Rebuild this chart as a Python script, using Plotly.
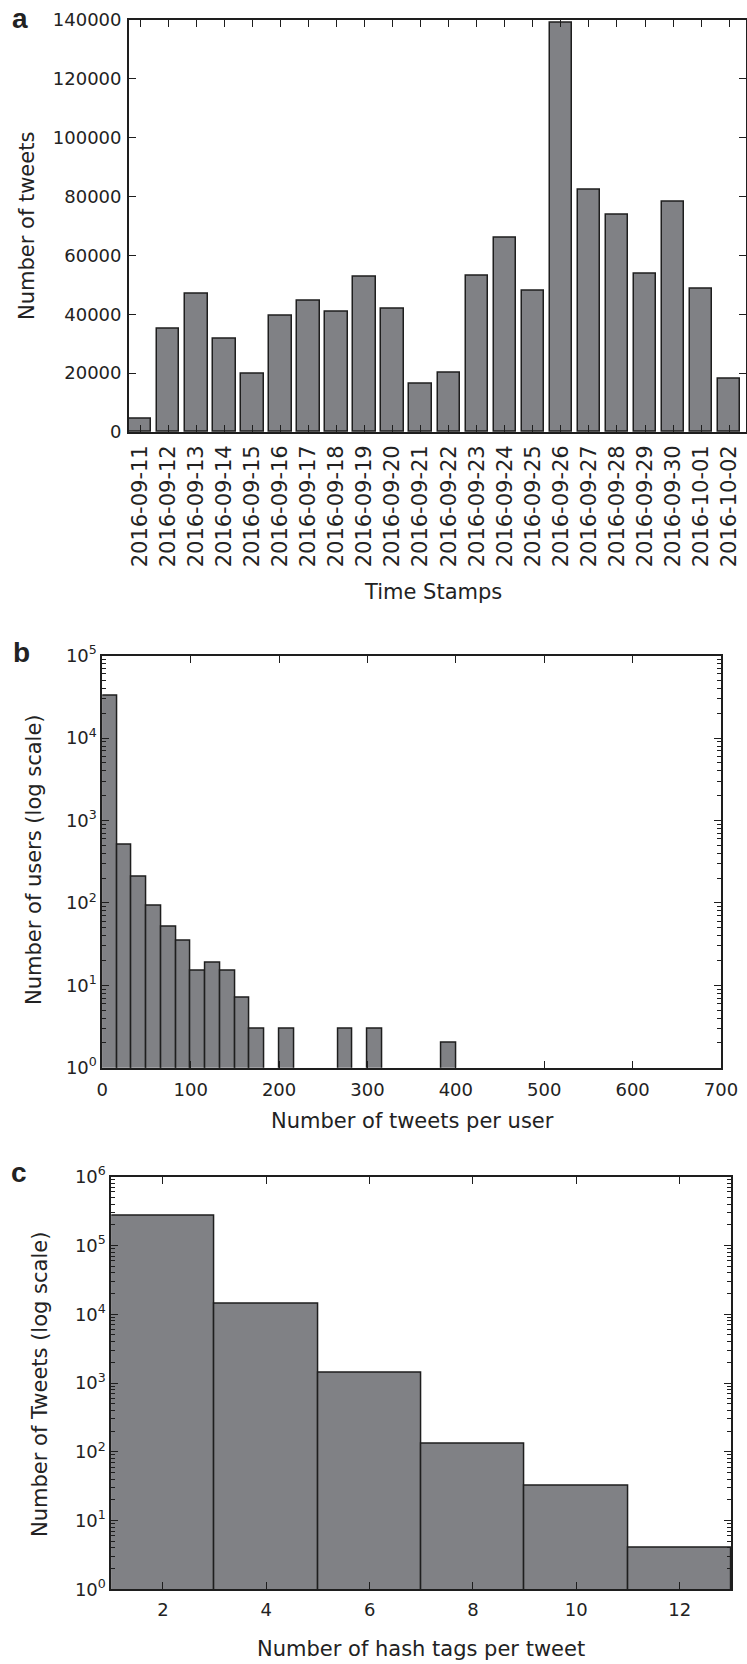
import numpy as np
import plotly.graph_objects as go

W, H = 747, 1664
FONT = "DejaVu Sans"
TEXT = "#222222"
EDGE = "#1e1e1e"
FILL = "#808185"

# ---------------- data ----------------
# Panel a: tweets per day
dates = ["2016-09-11", "2016-09-12", "2016-09-13", "2016-09-14", "2016-09-15",
         "2016-09-16", "2016-09-17", "2016-09-18", "2016-09-19", "2016-09-20",
         "2016-09-21", "2016-09-22", "2016-09-23", "2016-09-24", "2016-09-25",
         "2016-09-26", "2016-09-27", "2016-09-28", "2016-09-29", "2016-09-30",
         "2016-10-01", "2016-10-02"]
tweets_per_day = [4500, 35000, 46900, 31800, 19800, 39500, 44700, 41000, 52700, 42000,
                  16300, 20100, 53100, 66000, 48000, 139100, 82300, 73700, 53800, 78100,
                  48700, 18000]
a_yticks = [0, 20000, 40000, 60000, 80000, 100000, 120000, 140000]

# Panel b: histogram of tweets per user (24 bins from 0 to 400)
b_hist_min, b_hist_max = 0, 400
users_per_bin = [33000, 510, 206, 92, 52, 35, 15, 19, 15, 7, 3, 0,
                 3, 0, 0, 0, 3, 0, 3, 0, 0, 0, 0, 2]
b_xticks = [0, 100, 200, 300, 400, 500, 600, 700]

# Panel c: histogram of hashtags per tweet (bins of width 2 from 1 to 13)
hashtag_bin_centers = [2, 4, 6, 8, 10, 12]
hashtag_bin_width = 2
tweets_per_hashtag_bin = [268000, 14100, 1400, 130, 32, 4]

# ---------------- helpers ----------------
def dom_x(l, r):
    return [l / W, r / W]

def dom_y(top, bottom):
    return [1 - bottom / H, 1 - top / H]

def base_axis(**kw):
    d = dict(showline=True, linecolor=EDGE, linewidth=1.8, mirror="allticks",
             ticks="inside", ticklen=7, tickwidth=1, tickcolor=EDGE,
             showgrid=False, zeroline=False, automargin=False,
             tickfont=dict(family=FONT, size=18, color=TEXT))
    d.update(kw)
    return d

def sup_labels(n0, n1):
    return [f"10<sup>{k}</sup>" for k in range(n0, n1 + 1)]

def minor_vals(n0, n1):
    return [m * 10 ** k for k in range(n0, n1) for m in range(2, 10)]

bar_marker = dict(color=FILL, line=dict(color=EDGE, width=1.5))

fig = go.Figure()

# Panel a
fig.add_trace(go.Bar(x=dates, y=tweets_per_day, width=0.8, marker=bar_marker,
                     xaxis="x", yaxis="y", showlegend=False))

# Panel b
n_b = len(users_per_bin)
b_edges = np.linspace(b_hist_min, b_hist_max, n_b + 1)
b_centers = (b_edges[:-1] + b_edges[1:]) / 2
b_w = b_edges[1] - b_edges[0]
b_x = [c for c, v in zip(b_centers, users_per_bin) if v > 0]
b_y = [v for v in users_per_bin if v > 0]
fig.add_trace(go.Bar(x=b_x, y=b_y, width=b_w, marker=bar_marker,
                     xaxis="x2", yaxis="y2", showlegend=False))

# Panel c
fig.add_trace(go.Bar(x=hashtag_bin_centers, y=tweets_per_hashtag_bin,
                     width=hashtag_bin_width, marker=bar_marker,
                     xaxis="x3", yaxis="y3", showlegend=False))

fig.update_layout(
    width=W, height=H, margin=dict(l=0, r=0, t=0, b=0, autoexpand=False),
    paper_bgcolor="white", plot_bgcolor="white",
    font=dict(family=FONT, color=TEXT),
    bargap=0,
    xaxis=base_axis(type="category", range=[-0.4, len(dates) - 0.4],
                    domain=dom_x(129, 746), anchor="y", tickangle=-90,
                    ticklabelstandoff=3,
                    tickfont=dict(family=FONT, size=21, color=TEXT)),
    yaxis=base_axis(range=[0, 140000], tickvals=a_yticks,
                    ticktext=[str(v) for v in a_yticks], ticklabelstandoff=2,
                    domain=dom_y(19.7, 432), anchor="x"),
    xaxis2=base_axis(range=[0, 700], tickvals=b_xticks,
                     ticktext=[str(v) for v in b_xticks], ticklabelstandoff=5,
                     domain=dom_x(102.3, 721), anchor="y2"),
    yaxis2=base_axis(type="log", range=[0, 5],
                     tickvals=[10 ** k for k in range(0, 6)], ticktext=sup_labels(0, 5),
                     minor=dict(ticks="inside", ticklen=4, tickwidth=1, tickcolor=EDGE,
                                tickmode="array", tickvals=minor_vals(0, 5)),
                     domain=dom_y(655.7, 1067.7), anchor="x2"),
    xaxis3=base_axis(range=[1, 13], tickvals=hashtag_bin_centers,
                     ticktext=[str(v) for v in hashtag_bin_centers], ticklabelstandoff=3,
                     domain=dom_x(111.3, 731.3), anchor="y3"),
    yaxis3=base_axis(type="log", range=[0, 6],
                     tickvals=[10 ** k for k in range(0, 7)], ticktext=sup_labels(0, 6),
                     minor=dict(ticks="inside", ticklen=4, tickwidth=1, tickcolor=EDGE,
                                tickmode="array", tickvals=minor_vals(0, 6)),
                     domain=dom_y(1176.7, 1589.3), anchor="x3"),
)

def ann(text, x, y, size=21, angle=0, bold=False):
    fam = "Liberation Sans" if bold else FONT
    t = f"<b>{text}</b>" if bold else text
    fig.add_annotation(text=t, x=x / W, y=1 - y / H, xref="paper", yref="paper",
                       xanchor="center", yanchor="middle", showarrow=False,
                       textangle=angle, font=dict(family=fam, size=size, color=TEXT))

ann("Number of tweets", 27, 226, angle=-90)
ann("Time Stamps", 433, 592)
ann("Number of users (log scale)", 34, 860, angle=-90)
ann("Number of tweets per user", 412, 1120.5)
ann("Number of Tweets (log scale)", 40, 1385, angle=-90)
ann("Number of hash tags per tweet", 421, 1649)
ann("a", 20, 18, size=28, bold=True)
ann("b", 21, 652, size=28, bold=True)
ann("c", 19, 1172, size=28, bold=True)

fig.write_html("out.html")
